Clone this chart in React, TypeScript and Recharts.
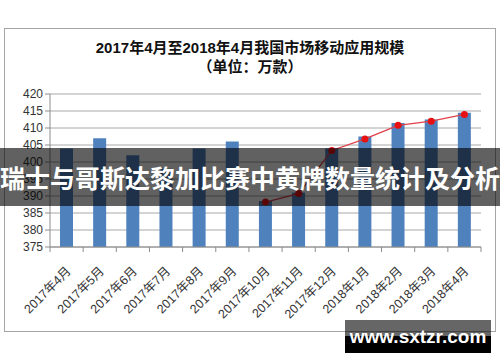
import { Bar, CartesianGrid, ComposedChart, Line, XAxis, YAxis } from "recharts";

const months = [
  "2017年4月", "2017年5月", "2017年6月", "2017年7月", "2017年8月", "2017年9月", "2017年10月",
  "2017年11月", "2017年12月", "2018年1月", "2018年2月", "2018年3月", "2018年4月",
];
const appCount = [404, 407, 402, 398, 404, 406, 388.5, 391, 404, 407.5, 411.5, 412.5, 414.5];
const trend = [null, null, null, null, null, null, 388.2, 390.7, 403.4, 406.8, 410.8, 412, 414];
const yTicks = [375, 380, 385, 390, 395, 400, 405, 410, 415, 420];

const data = months.map((month, i) => ({ month, count: appCount[i], trend: trend[i] }));

const CHART_W = 500;
const CHART_H = 362;
const MARGIN = { top: 94, right: 19, bottom: 55, left: 0 };
const Y_AXIS_W = 50;
const HALF_BAND = (CHART_W - MARGIN.right - MARGIN.left - Y_AXIS_W) / months.length / 2;

function MonthTick(props: any) {
  const { x, y, payload, index } = props;
  return (
    <g>
      <line x1={x - HALF_BAND} y1={y - 8} x2={x - HALF_BAND} y2={y - 3} stroke="#8c8c8c" />
      {index === months.length - 1 && (
        <line x1={x + HALF_BAND} y1={y - 8} x2={x + HALF_BAND} y2={y - 3} stroke="#8c8c8c" />
      )}
      <text
        transform={`translate(${x + 5},${y + 17}) rotate(-45)`}
        textAnchor="end"
        fontSize={12.5}
        fill="#333"
        fontFamily="'Liberation Sans', 'Noto Sans CJK SC', sans-serif"
      >
        {payload.value}
      </text>
    </g>
  );
}

export default function App() {
  return (
    <div style={{ position: "absolute", left: 0, top: 0, width: CHART_W, height: CHART_H, background: "#fff" }}>
      <div
        style={{
          position: "absolute",
          left: 4,
          top: 28,
          width: 490,
          height: 302,
          border: "1px solid #a6a6a6",
        }}
      />
      <div
        style={{
          position: "absolute",
          left: 0,
          top: 38,
          width: CHART_W,
          textAlign: "center",
          fontFamily: "'Liberation Sans', 'Noto Sans CJK SC', sans-serif",
          fontWeight: "bold",
          color: "#111",
          lineHeight: "19px",
        }}
      >
        <div style={{ fontSize: 15 }}>2017年4月至2018年4月我国市场移动应用规模</div>
        <div style={{ fontSize: 15 }}>（单位：万款）</div>
      </div>
      <div style={{ position: "absolute", left: 0, top: 0 }}>
        <ComposedChart width={CHART_W} height={CHART_H} data={data} margin={MARGIN}>
          <CartesianGrid vertical={false} stroke="#a8a8a8" />
          <XAxis
            dataKey="month"
            interval={0}
            height={60}
            tickLine={false}
            axisLine={{ stroke: "#8c8c8c" }}
            tick={<MonthTick />}
          />
          <YAxis
            width={Y_AXIS_W}
            domain={[375, 420]}
            ticks={yTicks}
            interval={0}
            axisLine={{ stroke: "#8c8c8c" }}
            tickLine={{ stroke: "#8c8c8c" }}
            tickSize={5}
            tick={{ fontSize: 12, fill: "#333", fontFamily: "'Liberation Sans', sans-serif" }}
          />
          <Bar dataKey="count" fill="#4f81bd" barSize={13} isAnimationActive={false} />
          <Line
            dataKey="trend"
            stroke="#e0404a"
            strokeWidth={1.3}
            dot={{ r: 3.5, fill: "#e81010", stroke: "none" }}
            activeDot={false}
            isAnimationActive={false}
          />
        </ComposedChart>
      </div>
      <div
        style={{
          position: "absolute",
          left: 0,
          top: 148,
          width: CHART_W,
          height: 58,
          background: "rgba(0,0,0,0.62)",
          color: "#fff",
          fontFamily: "'Noto Sans CJK SC', sans-serif",
          fontWeight: "bold",
          fontSize: 25,
          lineHeight: "58px",
          textAlign: "center",
          whiteSpace: "nowrap",
          overflow: "hidden",
        }}
      >
        瑞士与哥斯达黎加比赛中黄牌数量统计及分析
      </div>
      <div style={{ position: "absolute", left: 345, top: 320, width: 146, height: 16, background: "rgba(0,0,0,0.6)" }} />
      <div style={{ position: "absolute", left: 345, top: 336, width: 146, height: 17, background: "#000" }} />
      <div
        style={{
          position: "absolute",
          left: 345,
          top: 324,
          width: 146,
          height: 26,
          lineHeight: "26px",
          textAlign: "center",
          color: "#fff",
          fontFamily: "'Liberation Sans', sans-serif",
          fontWeight: "bold",
          fontSize: 19,
        }}
      >
        www.sxtzr.com
      </div>
    </div>
  );
}
